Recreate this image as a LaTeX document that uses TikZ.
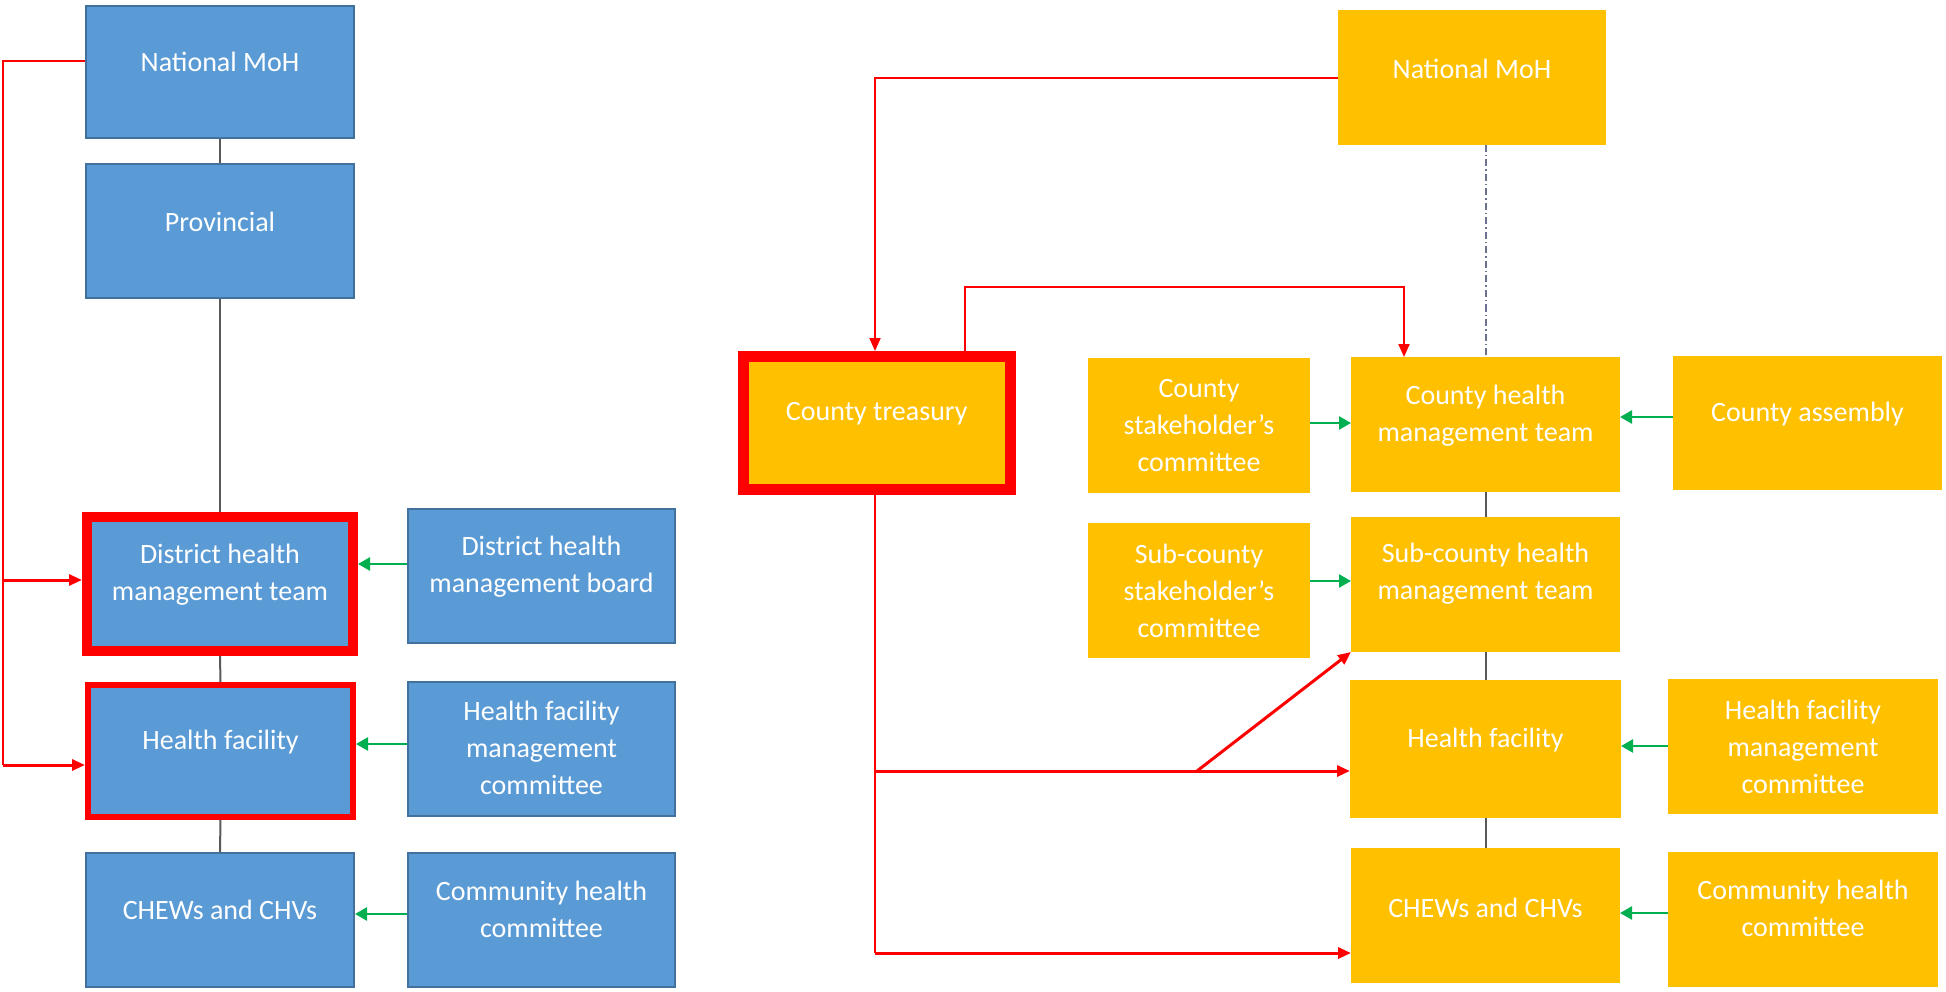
\documentclass[tikz,border=0pt]{standalone}
\usepackage{fontspec}
\setmainfont{Carlito}
\usetikzlibrary{arrows.meta}
\definecolor{bfill}{HTML}{5B9BD5}
\definecolor{bline}{HTML}{41719C}
\definecolor{ofill}{HTML}{FFC000}
\definecolor{rline}{HTML}{FF0000}
\definecolor{gline}{HTML}{00B050}
\definecolor{kline}{HTML}{595959}
\definecolor{dline}{HTML}{6A7290}
\begin{document}
\begin{tikzpicture}[x=1pt,y=-1pt,
 bbox/.style={draw=bline,fill=bfill,line width=2pt,inner sep=0pt,outer sep=1pt},
 obox/.style={fill=ofill,inner sep=0pt,outer sep=0pt},
 rbord/.style={draw=rline,line width=#1,inner sep=0pt,outer sep=#1/2},
 lbl/.style={text=white,font=\fontsize{28}{37}\selectfont,align=center,inner sep=0pt},
 redl/.style={draw=rline,line width=2pt},
 redk/.style={draw=rline,line width=3pt},
 rtip/.style={-{Triangle[length=13pt,width=11pt]}},
 garrow/.style={draw=gline,line width=2.5pt,-{Triangle[length=12pt,width=13pt]}},
 conn/.style={draw=kline,line width=2pt},
 dashc/.style={draw=dline,line width=2pt,dash pattern=on 7pt off 3pt on 1.5pt off 3pt}
]
\useasboundingbox (0,0) rectangle (1946,992);

% ---------- left (blue) ----------
\node[bbox,minimum width=268pt,minimum height=132pt] (lnat) at (220,72) {};
\node[bbox,minimum width=268pt,minimum height=134pt] (lprov) at (220,231) {};
\node[rbord=10pt,fill=bfill,minimum width=266pt,minimum height=134pt] (ldhmt) at (220,584) {};
\node[rbord=6pt,fill=bfill,minimum width=265pt,minimum height=132pt] (lhf) at (220.5,751) {};
\node[bbox,minimum width=268pt,minimum height=134pt] (lchew) at (220,920) {};
\node[bbox,minimum width=267pt,minimum height=134pt] (ldhmb) at (541.5,576) {};
\node[bbox,minimum width=267pt,minimum height=134pt] (lhfmc) at (541.5,749) {};
\node[bbox,minimum width=267pt,minimum height=134pt] (lchc) at (541.5,920) {};

\node[lbl] (lnat-t) at ([yshift=10pt]lnat.center) {National MoH};
\node[lbl] (lprov-t) at ([yshift=9pt]lprov.center) {Provincial};
\node[lbl] (ldhmt-t) at ([yshift=9pt]ldhmt.center) {District health\\management team};
\node[lbl] (lhf-t) at ([yshift=9pt]lhf.center) {Health facility};
\node[lbl] (lchew-t) at ([yshift=10pt]lchew.center) {CHEWs and CHVs};
\node[lbl] (ldhmb-t) at ([yshift=9pt]ldhmb.center) {District health\\management board};
\node[lbl] (lhfmc-t) at ([yshift=1pt]lhfmc.center) {Health facility\\management\\committee};
\node[lbl] (lchc-t) at ([yshift=11pt]lchc.center) {Community health\\committee};

\draw[conn] (lnat.south) -- (lprov.north);
\draw[conn] (lprov.south) -- (ldhmt.north);
\draw[conn] (ldhmt.south) -- (lhf.north);
\draw[conn] (lhf.south) -- (lchew.north);

\coordinate (lrA) at (3,61);
\coordinate (lrB) at (3,580);
\coordinate (lrC) at (3,765);
\draw[redl] (lnat.west |- lrA) -- (lrA) -- (lrC);
\draw[redk,rtip] (lrB) -- (ldhmt.west |- lrB);
\draw[redk,rtip] (lrC) -- (lhf.west |- lrC);

\draw[garrow] (ldhmb.west |- 0,564) -- (ldhmt.east |- 0,564);
\draw[garrow] (lhfmc.west |- 0,744) -- (lhf.east |- 0,744);
\draw[garrow] (lchc.west |- 0,914) -- (lchew.east |- 0,914);

% ---------- right (orange) ----------
\node[obox,minimum width=268pt,minimum height=135pt] (rnat) at (1472,77.5) {};
\node[rbord=11pt,fill=ofill,minimum width=266.5pt,minimum height=132.5pt] (rtreas) at (876.75,422.75) {};
\node[obox,minimum width=222pt,minimum height=135pt] (rcsc) at (1199,425.5) {};
\node[obox,minimum width=269pt,minimum height=135pt] (rchmt) at (1485.5,424.5) {};
\node[obox,minimum width=269pt,minimum height=134pt] (rasm) at (1807.5,423) {};
\node[obox,minimum width=222pt,minimum height=135pt] (rscsc) at (1199,590.5) {};
\node[obox,minimum width=269pt,minimum height=135pt] (rschmt) at (1485.5,584.5) {};
\node[obox,minimum width=271pt,minimum height=138pt] (rhf) at (1485.5,749) {};
\node[obox,minimum width=270pt,minimum height=135pt] (rhfmc) at (1803,746.5) {};
\node[obox,minimum width=269pt,minimum height=135pt] (rchew) at (1485.5,915.5) {};
\node[obox,minimum width=270pt,minimum height=135pt] (rchc) at (1803,919.5) {};

\node[lbl] (rnat-t) at ([yshift=9pt]rnat.center) {National MoH};
\node[lbl] (rtreas-t) at ([yshift=9pt]rtreas.center) {County treasury};
\node[lbl] (rcsc-t) at ([yshift=0pt]rcsc.center) {County\\stakeholder’s\\committee};
\node[lbl] (rchmt-t) at ([yshift=9pt]rchmt.center) {County health\\management team};
\node[lbl] (rasm-t) at ([yshift=9pt]rasm.center) {County assembly};
\node[lbl] (rscsc-t) at ([yshift=0pt]rscsc.center) {Sub-county\\stakeholder’s\\committee};
\node[lbl] (rschmt-t) at ([yshift=11pt]rschmt.center) {Sub-county health\\management team};
\node[lbl] (rhf-t) at ([yshift=9pt]rhf.center) {Health facility};
\node[lbl] (rhfmc-t) at ([yshift=0pt]rhfmc.center) {Health facility\\management\\committee};
\node[lbl] (rchew-t) at ([yshift=8pt]rchew.center) {CHEWs and CHVs};
\node[lbl] (rchc-t) at ([yshift=11pt]rchc.center) {Community health\\committee};

\draw[dashc] (rchmt.north |- rnat.south) -- (rchmt.north);
\draw[conn] (rchmt.south) -- (rschmt.north);
\draw[conn] (rschmt.south) -- (rhf.north);
\draw[conn] (rhf.south) -- (rchew.north);

\coordinate (rA) at (875,78);
\coordinate (rB) at (965,287);
\coordinate (rC) at (1404,287);
\coordinate (rD) at (875,771);
\coordinate (rE) at (875,953);
\coordinate (rF) at (1197,771);
\draw[redl,rtip] (rnat.west |- rA) -- (rA) -- (rA |- rtreas.north);
\draw[redl,rtip] (rB |- rtreas.north) -- (rB) -- (rC) -- (rC |- rchmt.north);
\draw[redl] (rA |- rtreas.south) -- (rE);
\draw[redk,rtip] (rD) -- (rhf.west |- rD);
\draw[redk,rtip] (rE) -- (rchew.west |- rE);
\draw[redk,rtip] (rF) -- (rschmt.south west);

\draw[garrow] (rcsc.east |- 0,423) -- (rchmt.west |- 0,423);
\draw[garrow] (rasm.west |- 0,417) -- (rchmt.east |- 0,417);
\draw[garrow] (rscsc.east |- 0,581) -- (rschmt.west |- 0,581);
\draw[garrow] (rhfmc.west |- 0,746) -- (rhf.east |- 0,746);
\draw[garrow] (rchc.west |- 0,913) -- (rchew.east |- 0,913);
\end{tikzpicture}
\end{document}
